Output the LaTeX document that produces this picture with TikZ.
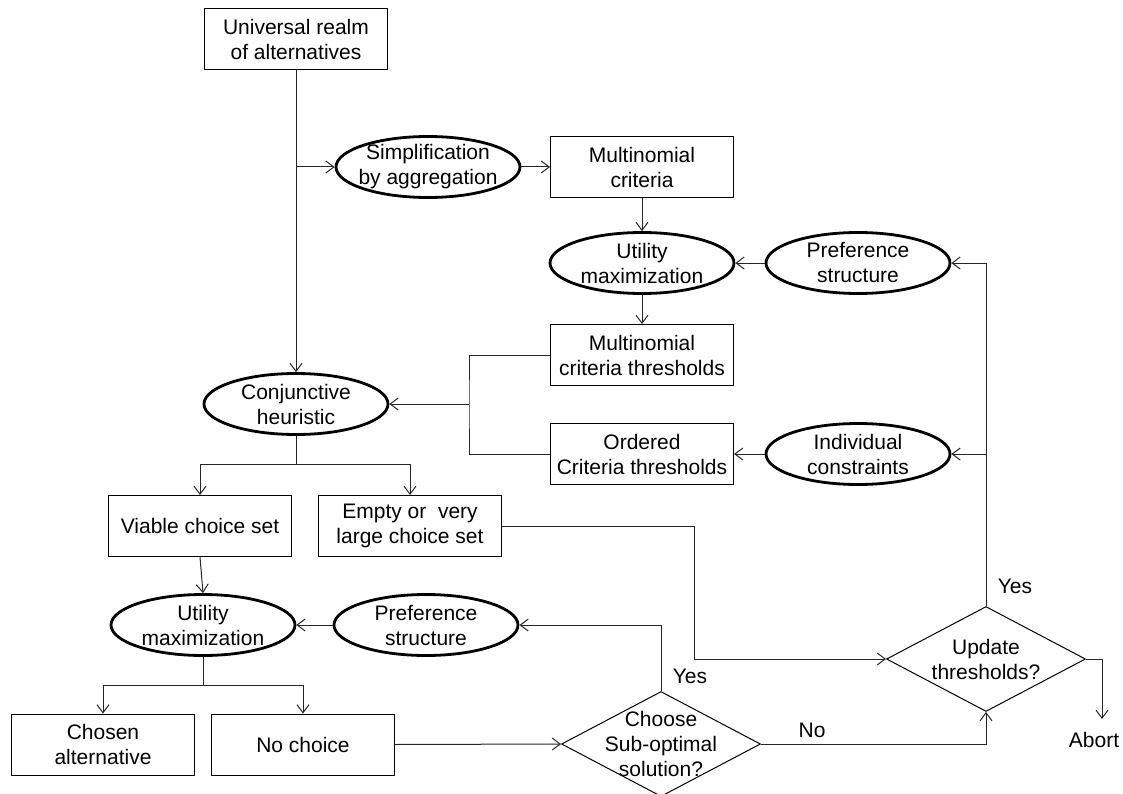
\documentclass[tikz,border=0pt]{standalone}
\usepackage{fontspec}
\setmainfont{Liberation Sans}
\usetikzlibrary{shapes.geometric,arrows.meta}
\begin{document}
\begin{tikzpicture}[x=1pt,y=-1pt,
  every node/.style={font=\fontsize{21}{25}\selectfont},
  box/.style={draw,line width=1pt,minimum width=183pt,minimum height=61pt,inner sep=0pt,align=center},
  oval/.style={draw,ellipse,line width=2.8pt,minimum width=184pt,minimum height=61pt,inner sep=0pt},
  dia/.style={draw,diamond,line width=1pt,minimum width=199pt,minimum height=105pt,inner sep=0pt},
  arr/.style={line width=1pt,draw=black!85,-{Straight Barb[length=8pt,width=12pt]}},
  con/.style={line width=1pt,draw=black!85},
  lab/.style={align=center,inner sep=0pt}
]
\useasboundingbox (0,0) rectangle (1123,794);

% nodes
\node[box] (u) at (296,39) {Universal realm\\of alternatives};
\node[oval,label={[lab]center:Simplification\\by aggregation}] (simp) at (428,167) {};
\node[box] (mc) at (642,167) {Multinomial\\criteria};
\node[oval,label={[lab]center:Utility\\maximization}] (ut1) at (642,263) {};
\node[oval,label={[lab]center:Preference\\structure}] (pr1) at (858,263) {};
\node[box] (mct) at (642,355) {Multinomial\\criteria thresholds};
\node[oval,label={[lab]center:Conjunctive\\heuristic}] (conj) at (296,404) {};
\node[box] (oct) at (642,454) {Ordered\\Criteria thresholds};
\node[oval,label={[lab]center:Individual\\constraints}] (ind) at (858,454) {};
\node[box] (via) at (200,526) {Viable choice set};
\node[box] (emp) at (410,526) {Empty or~ very\\large choice set};
\node[oval,label={[lab]center:Utility\\maximization}] (ut2) at (203,625) {};
\node[oval,label={[lab]center:Preference\\structure}] (pr2) at (426,625) {};
\node[box] (cho) at (103,744.5) {Chosen\\alternative};
\node[box] (noc) at (303,744.5) {No choice};
\node[dia,label={[lab]center:Choose\\Sub-optimal\\solution?}] (ch) at (661,744) {};
\node[dia,label={[lab]center:Update\\thresholds?}] (upd) at (986,659) {};
\node[inner sep=2pt] (ab) at (1094,740) {Abort};
\node (y1) at (1015,586) {Yes};
\node (y2) at (690,676) {Yes};
\node (no) at (812,730) {No};

% helper coordinates
\coordinate (b1) at (296,167);
\coordinate (bx) at (469,404);
\coordinate (r2) at (986,454);
\coordinate (c1) at (296,464);
\coordinate (e1) at (694,659);
\coordinate (c2) at (203,685);
\coordinate (a1) at (1102,719);

% connectors
\draw[arr] (u.south) -- (conj.north);
\draw[arr] (b1) -- (simp.west);
\draw[arr] (simp.east) -- (mc.west);
\draw[arr] (mc.south) -- (ut1.north);
\draw[arr] (ut1.south) -- (mct.north);
\draw[arr] (pr1.west) -- (ut1.east);
\draw[arr] (ind.west) -- (oct.east);
\draw[con] (mct.west) -| (bx) |- (oct.west);
\draw[arr] (bx) -- (conj.east);
\draw[arr] (upd.north) |- (pr1.east);
\draw[arr] (r2) -- (ind.east);
\draw[con] (conj.south) -- (c1);
\draw[arr] (c1) -| (via.north);
\draw[arr] (c1) -| (emp.north);
\draw[arr] (emp.east) -| (e1) -- (upd.west);
\draw[arr] (via.south) -- (ut2.north);
\draw[arr] (pr2.west) -- (ut2.east);
\draw[arr] (ch.north) |- (pr2.east);
\draw[con] (ut2.south) -- (c2);
\draw[arr] (c2) -| (cho.north);
\draw[arr] (c2) -| (noc.north);
\draw[arr] (noc.east) -- (ch.west);
\draw[arr] (ch.east) -| (upd.south);
\draw[arr] (upd.east) -| (a1);
\end{tikzpicture}
\end{document}
